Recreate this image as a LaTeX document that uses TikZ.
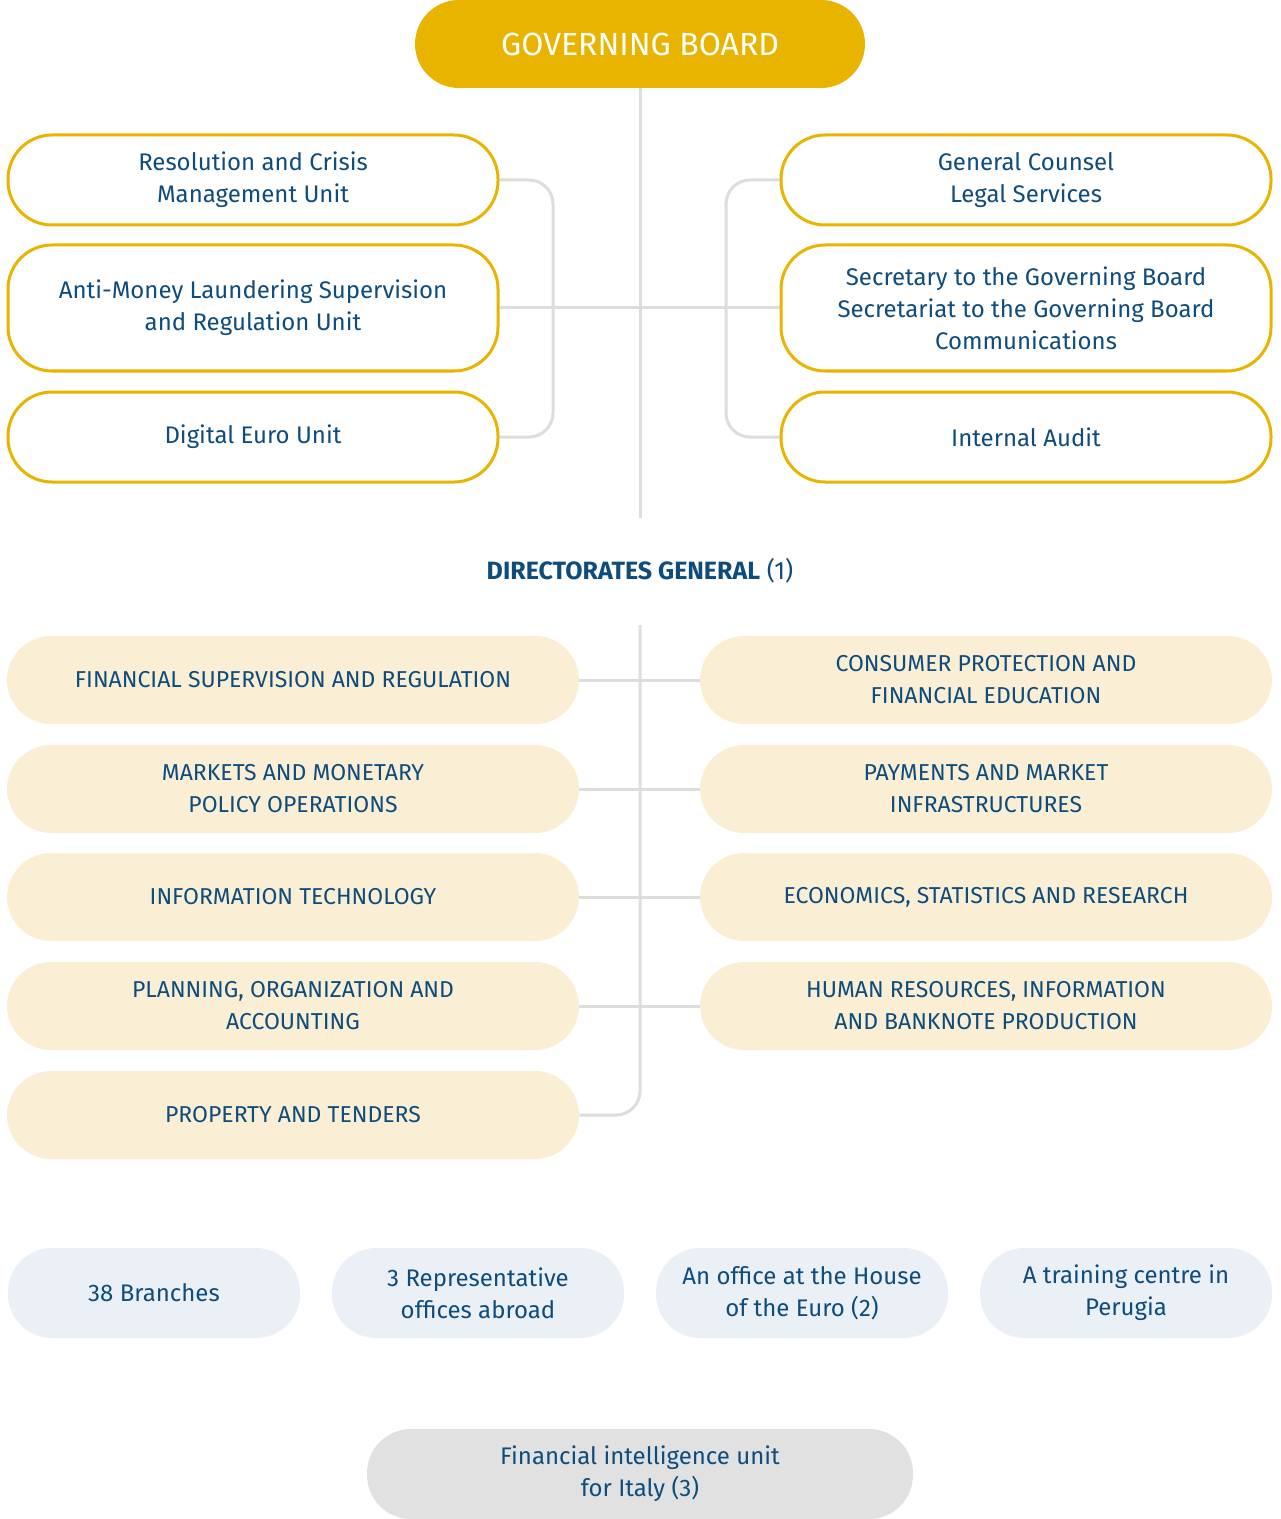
\documentclass[tikz,border=0pt]{standalone}
\usepackage{fontspec}
\setmainfont{Fira Sans}
\usetikzlibrary{positioning,backgrounds}
\definecolor{gold}{HTML}{E8B400}
\definecolor{navy}{HTML}{0E4C7D}
\definecolor{cream}{HTML}{FAEFD4}
\definecolor{pale}{HTML}{EAF0F6}
\definecolor{fiu}{HTML}{E1E1E1}
\definecolor{rule}{HTML}{DDDDDD}
\tikzset{
  box/.style={rounded corners=22pt, align=center, text=navy, font=\fontsize{12}{16}\selectfont, inner sep=0pt},
  staff/.style={box, draw=gold, line width=1.5pt, fill=white, minimum width=245pt, minimum height=45pt},
  dept/.style={box, fill=cream, minimum width=286pt, minimum height=44pt, font=\fontsize{11.5}{16}\selectfont},
  site/.style={box, fill=pale, minimum width=146pt, minimum height=45pt},
  link/.style={draw=rule, line width=1.5pt, rounded corners=12pt}
}
\begin{document}
\begin{tikzpicture}[x=0.5pt,y=-0.5pt]
    \useasboundingbox (0,0) rectangle (1280,1519);

    % top of the chart
    \node[box, fill=gold, text=white, minimum width=225pt, minimum height=44pt, font=\fontsize{16}{18}\selectfont] (gb) at (640,44) {GOVERNING BOARD};

    % units reporting to the board
    \node[staff] (rc) at (253,180) {Resolution and Crisis\\Management Unit};
    \node[staff, minimum height=63pt] (am) at (253,308) {Anti-Money Laundering Supervision\\and Regulation Unit};
    \node[staff] (de) at (253,437) {Digital Euro Unit};
    \node[staff] (gc) at (1026,180) {General Counsel\\Legal Services};
    \node[staff, minimum height=63pt] (sg) at (1026,308) {Secretary to the Governing Board\\Secretariat to the Governing Board\\Communications};
    \node[staff] (ia) at (1026,437) {Internal Audit};

    \node[text=navy, font=\fontsize{12.5}{15}\selectfont] (dg) at (640,571) {\textbf{DIRECTORATES GENERAL} (1)};

    % directorates general
    \node[dept] (fs) at (293,680) {FINANCIAL SUPERVISION AND REGULATION};
    \node[dept] (mm) at (293,789) {MARKETS AND MONETARY\\POLICY OPERATIONS};
    \node[dept] (it) at (293,897) {INFORMATION TECHNOLOGY};
    \node[dept] (po) at (293,1006) {PLANNING, ORGANIZATION AND\\ACCOUNTING};
    \node[dept] (pt) at (293,1115) {PROPERTY AND TENDERS};
    \node[dept] (cp) at (986,680) {CONSUMER PROTECTION AND\\FINANCIAL EDUCATION};
    \node[dept] (pm) at (986,789) {PAYMENTS AND MARKET\\INFRASTRUCTURES};
    \node[dept] (es) at (986,897) {ECONOMICS, STATISTICS AND RESEARCH};
    \node[dept] (hr) at (986,1006) {HUMAN RESOURCES, INFORMATION\\AND BANKNOTE PRODUCTION};

    % branches and offices
    \node[site] (br) at (154,1293) {38 Branches};
    \node[site] (ro) at (478,1293) {3 Representative\\offices abroad};
    \node[site] (he) at (802,1293) {An office at the House\\of the Euro (2)};
    \node[site] (tc) at (1126,1293) {A training centre in\\Perugia};

    \node[box, fill=fiu, minimum width=273pt, minimum height=45pt] (fi) at (640,1474) {Financial intelligence unit\\for Italy (3)};

    \coordinate (top) at (640,518);
    \coordinate (lb) at (553,308);
    \coordinate (rb) at (726,308);
    \coordinate (mid) at (640,625);
    \coordinate (bot) at (640,1115);

    \begin{scope}[on background layer]
    \draw[link] (gb.south) -- (top);
    \draw[link] (rc.east) -| (lb) |- (de.east);
    \draw[link] (gc.west) -| (rb) |- (ia.west);
    \draw[link] (am.east) -- (sg.west);
    \draw[link] (mid) |- (pt.east);
    \foreach \l/\r in {fs/cp, mm/pm, it/es, po/hr}
        \draw[link] (\l.east) -- (\r.west);
    \end{scope}
\end{tikzpicture}
\end{document}
